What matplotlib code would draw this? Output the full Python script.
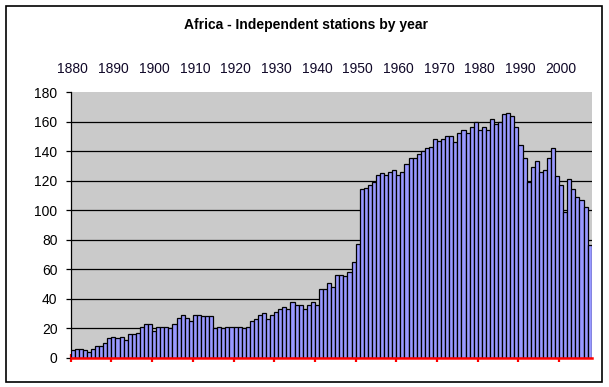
import matplotlib
matplotlib.use("Agg")
import matplotlib.pyplot as plt
from matplotlib.patches import Rectangle
import numpy as np

plt.rcParams['font.family'] = ['Liberation Sans', 'DejaVu Sans']
plt.rcParams['hatch.color'] = '#9a9a9a'
plt.rcParams['hatch.linewidth'] = 0.5

# ---- data ----
years = list(range(1880, 2008))
stations = [
    5, 6, 6, 5, 4, 6, 8, 8, 10, 13,            # 1880s
    14, 13, 14, 12, 16, 16, 17, 21, 23, 23,    # 1890s
    18, 21, 21, 21, 20, 23, 27, 29, 27, 25,    # 1900s
    29, 29, 28, 28, 28, 20, 21, 20, 21, 21,    # 1910s
    21, 21, 20, 21, 25, 26, 29, 30, 26, 29,    # 1920s
    31, 33, 34, 33, 37.5, 35.5, 35.5, 33, 35.5, 37.5,  # 1930s
    35.5, 46.5, 46.5, 50.5, 48, 56, 56, 55, 58, 65,    # 1940s
    77, 114, 115, 117, 119, 124, 125, 124, 126, 127,   # 1950s
    124, 126, 131, 135, 135, 138, 140, 142, 143, 148,  # 1960s
    147, 148, 150, 150, 146, 152, 154, 152, 156, 160,  # 1970s
    154, 156, 154, 162, 158, 160, 165, 166, 164, 156,  # 1980s
    144, 135, 119, 129, 133, 126, 127, 135, 142, 123,  # 1990s
    117, 99, 121, 114, 109, 107, 102, 76,              # 2000s
]
top_label_years = list(range(1880, 2001, 10))
y_ticks = [0, 20, 40, 60, 80, 100, 120, 140, 160, 180]
title = "Africa - Independent stations by year"

W, H = 609, 387
fig = plt.figure(figsize=(W / 100, H / 100), dpi=100)

left_px, right_px, top_px, bot_px = 70.7, 591.7, 92.0, 357.6
ax = fig.add_axes([left_px / W, 1 - bot_px / H,
                   (right_px - left_px) / W, (bot_px - top_px) / H])

ax.patch.set_facecolor('#cacaca')
ax.patch.set_hatch('.....')

ax.bar(years, stations, width=1.0, color='#9999ff', edgecolor='black',
       linewidth=0.9, zorder=3)

ax.set_xlim(years[0] - 0.5, years[-1] + 0.5)
ax.set_ylim(y_ticks[0], y_ticks[-1])

for t in y_ticks[1:-1]:
    ax.axhline(t, color='black', linewidth=0.9, zorder=1)

for s in ['top', 'right']:
    ax.spines[s].set_visible(False)
ax.spines['left'].set_color('black')
ax.spines['left'].set_linewidth(0.9)
ax.spines['bottom'].set_color('#ff0000')
ax.spines['bottom'].set_linewidth(1.8)
ax.spines['bottom'].set_zorder(5)

ax.set_yticks(y_ticks)
ax.set_yticklabels([str(t) for t in y_ticks], fontsize=10)
ax.tick_params(axis='y', direction='out', length=3.5, width=0.9,
               color='black', pad=6)

xt = [y - 0.5 for y in range(years[0], years[-1], 10)]
ax.set_xticks(xt)
ax.set_xticklabels([])
ax.tick_params(axis='x', direction='inout', length=6, width=1.6,
               color='#ff0000')

# top row of year labels (secondary axis at the top)
sec = ax.secondary_xaxis('top')
sec.set_xticks(top_label_years)
sec.set_xticklabels([str(y) for y in top_label_years], fontsize=10,
                    color='#100828')
sec.tick_params(length=0, pad=11.5)
sec.spines['top'].set_visible(False)

fig.text(306 / W, 1 - 24.5 / H, title, ha='center', va='center',
         fontsize=10, fontweight='bold')

fig.patches.append(Rectangle((6 / W, 1 - 382.3 / H), (601.7 - 6) / W,
                             (382.3 - 6) / H, transform=fig.transFigure,
                             fill=False, edgecolor='black', linewidth=1.2))

fig.savefig('out.png', dpi=100)
